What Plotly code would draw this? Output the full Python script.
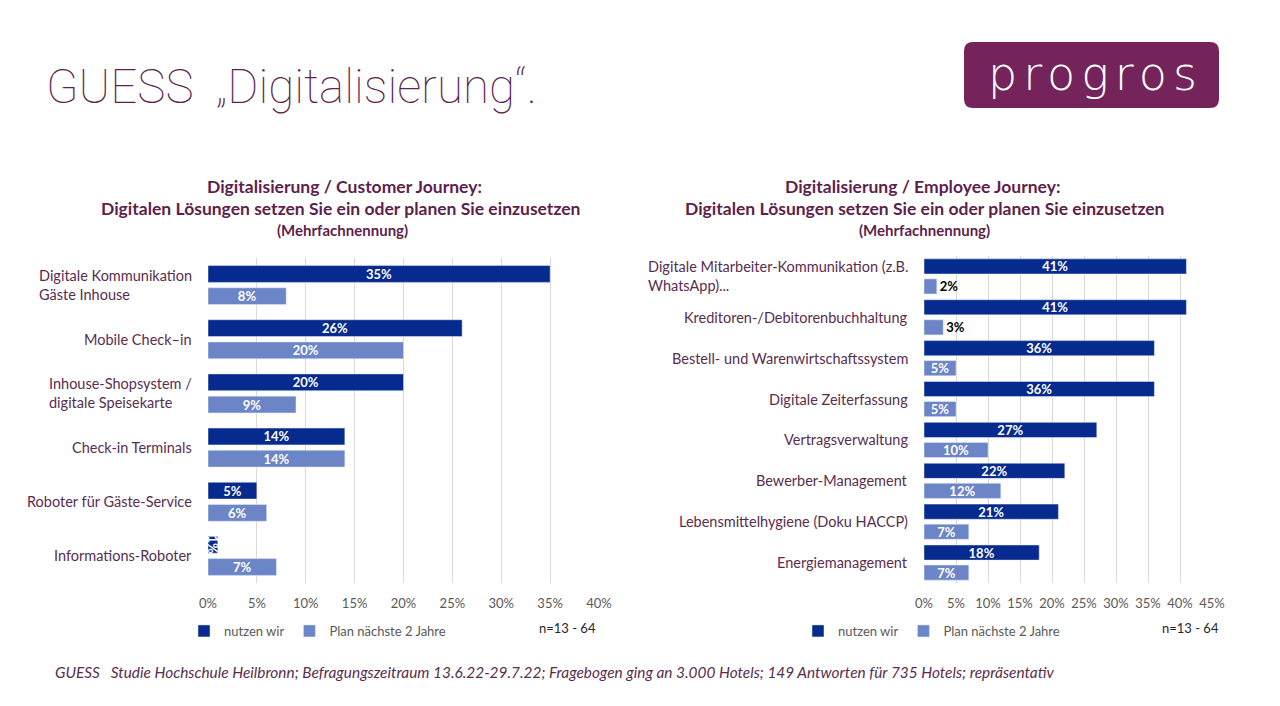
import plotly.graph_objects as go

# ---------------- data ----------------
cust_categories = ["Digitale Kommunikation<br>Gäste Inhouse", "Mobile Check–in",
                   "Inhouse-Shopsystem /<br>digitale Speisekarte", "Check-in Terminals",
                   "Roboter für Gäste-Service", "Informations-Roboter"]
cust_nutzen = [35, 26, 20, 14, 5, 1]
cust_plan = [8, 20, 9, 14, 6, 7]

emp_categories = ["Digitale Mitarbeiter-Kommunikation (z.B.<br>WhatsApp)...",
                  "Kreditoren-/Debitorenbuchhaltung", "Bestell- und Warenwirtschaftssystem",
                  "Digitale Zeiterfassung", "Vertragsverwaltung", "Bewerber-Management",
                  "Lebensmittelhygiene (Doku HACCP)", "Energiemanagement"]
emp_nutzen = [41, 41, 36, 36, 27, 22, 21, 18]
emp_plan = [2, 3, 5, 5, 10, 12, 7, 7]

cust_ticks = [0, 5, 10, 15, 20, 25, 30, 35, 40]
cust_ticktext = ["0%", "5%", "10%", "15%", "20%", "25%", "30%", "35%", "40%"]
emp_ticks = [0, 5, 10, 15, 20, 25, 30, 35, 40, 45]
emp_ticktext = ["0%", "5%", "10%", "15%", "20%", "25%", "30%", "35%", "40%", "45%"]

series_names = ["nutzen wir", "Plan nächste 2 Jahre"]

# ---------------- style ----------------
W, H = 1280, 706
DARK = "#062A8D"
LIGHT = "#6C85C7"
PURPLE = "#5E1F4C"
LABEL = "#5A2D4F"
GRAY = "#595959"
FONT = "Lato, 'Open Sans', sans-serif"


def px(x):
    return x / W


def py(y):
    return 1 - y / H


def labels(vals):
    return [f"{v}%" for v in vals]


bar_text_font = dict(color="white", size=13, family=FONT, weight="bold")

fig = go.Figure()

# customer journey
fig.add_trace(go.Bar(orientation="h", y=list(range(len(cust_categories))), x=cust_nutzen,
                     name=series_names[0], marker_color=DARK, width=0.31, offset=-0.36,
                     text=labels(cust_nutzen), textposition="inside", insidetextanchor="middle",
                     constraintext="none", textfont=bar_text_font,
                     xaxis="x", yaxis="y", legend="legend", hoverinfo="skip"))
fig.add_trace(go.Bar(orientation="h", y=list(range(len(cust_categories))), x=cust_plan,
                     name=series_names[1], marker_color=LIGHT, width=0.31, offset=0.05,
                     text=labels(cust_plan), textposition="inside", insidetextanchor="middle",
                     constraintext="none", textfont=bar_text_font,
                     xaxis="x", yaxis="y", legend="legend", hoverinfo="skip"))

# employee journey
fig.add_trace(go.Bar(orientation="h", y=list(range(len(emp_categories))), x=emp_nutzen,
                     name=series_names[0], marker_color=DARK, width=0.37, offset=-0.43,
                     text=labels(emp_nutzen), textposition="inside", insidetextanchor="middle",
                     constraintext="none", textfont=bar_text_font,
                     xaxis="x2", yaxis="y2", legend="legend2", hoverinfo="skip"))
emp_pos = ["outside" if v < 4 else "inside" for v in emp_plan]
fig.add_trace(go.Bar(orientation="h", y=list(range(len(emp_categories))), x=emp_plan,
                     name=series_names[1], marker_color=LIGHT, width=0.37, offset=0.06,
                     text=labels(emp_plan), textposition=emp_pos, insidetextanchor="middle",
                     constraintext="none",
                     insidetextfont=bar_text_font,
                     outsidetextfont=dict(color="black", size=13, family=FONT, weight="bold"),
                     cliponaxis=False,
                     xaxis="x2", yaxis="y2", legend="legend2", hoverinfo="skip"))

axis_common = dict(showgrid=True, gridcolor="#D9D9D9", gridwidth=1, zeroline=False,
                   showline=False, ticks="", tickmode="array", automargin=False,
                   tickfont=dict(size=13, color=GRAY, family=FONT), ticklabelstandoff=11,
                   fixedrange=True)

legend_common = dict(orientation="h", yanchor="middle", bgcolor="rgba(0,0,0,0)",
                     font=dict(size=13, color=GRAY, family=FONT), itemwidth=30,
                     traceorder="normal")

fig.update_layout(
    width=W, height=H, autosize=False,
    margin=dict(l=0, r=0, t=0, b=0, autoexpand=False),
    paper_bgcolor="white", plot_bgcolor="white",
    font=dict(family=FONT),
    barmode="overlay",
    showlegend=True,
    xaxis=dict(domain=[px(208), px(599)], range=[0, 40], tickvals=cust_ticks,
               ticktext=cust_ticktext, anchor="y", **axis_common),
    yaxis=dict(domain=[py(583), py(258)], range=[len(cust_categories) - 0.5, -0.5],
               showticklabels=False, showgrid=False, zeroline=False, anchor="x",
               fixedrange=True, automargin=False),
    xaxis2=dict(domain=[px(924), px(1212)], range=[0, 45], tickvals=emp_ticks,
                ticktext=emp_ticktext, anchor="y2", **axis_common),
    yaxis2=dict(domain=[py(583), py(256)], range=[len(emp_categories) - 0.5, -0.5],
                showticklabels=False, showgrid=False, zeroline=False, anchor="x2",
                fixedrange=True, automargin=False),
    legend=dict(x=px(184), y=py(631), xanchor="left", **legend_common),
    legend2=dict(x=px(798), y=py(631), xanchor="left", **legend_common),
)

ann = []
# category labels (left-aligned blocks, right edge near the axis)
for i, c in enumerate(cust_categories):
    ann.append(dict(text=c, xref="paper", yref="y", x=px(194), y=i, xanchor="right",
                    yanchor="middle", align="left", showarrow=False,
                    font=dict(size=14.5, color=LABEL, family=FONT)))
for i, c in enumerate(emp_categories):
    ann.append(dict(text=c, xref="paper", yref="y2", x=px(910), y=i, xanchor="right",
                    yanchor="middle", align="left", showarrow=False,
                    font=dict(size=14.5, color=LABEL, family=FONT)))

# chart titles
titles = [
    ("Digitalisierung / Customer Journey:", 344, 186, 17.5),
    ("Digitalen Lösungen setzen Sie ein oder planen Sie einzusetzen", 340, 209, 17.5),
    ("(Mehrfachnennung)", 342, 230, 15),
    ("Digitalisierung / Employee Journey:", 922, 186, 17.5),
    ("Digitalen Lösungen setzen Sie ein oder planen Sie einzusetzen", 924, 209, 17.5),
    ("(Mehrfachnennung)", 924, 230, 15),
]
for t, x, y, s in titles:
    ann.append(dict(text=t, xref="paper", yref="paper", x=px(x), y=py(y), xanchor="center",
                    yanchor="middle", showarrow=False,
                    font=dict(size=s, color=PURPLE, family=FONT, weight="bold")))

# n labels
for x in (567, 1190):
    ann.append(dict(text="n=13 - 64", xref="paper", yref="paper", x=px(x), y=py(628),
                    xanchor="center", yanchor="middle", showarrow=False,
                    font=dict(size=13, color="#262626", family=FONT)))

# main title
ann.append(dict(text="GUESS  „Digitalisierung“.", xref="paper", yref="paper", x=px(44), y=py(87),
                xanchor="left", yanchor="middle", showarrow=False,
                font=dict(size=47.5, color="#5B2350", family="Roboto, sans-serif", weight=100)))

# footer
ann.append(dict(text="GUESS   Studie Hochschule Heilbronn; Befragungszeitraum 13.6.22-29.7.22; "
                     "Fragebogen ging an 3.000 Hotels; 149 Antworten für 735 Hotels; repräsentativ",
                xref="paper", yref="paper", x=px(53), y=py(672), xanchor="left", yanchor="middle",
                showarrow=False,
                font=dict(size=15.4, color=LABEL, family=FONT, style="italic")))

# logo text
ann.append(dict(text='<span style="letter-spacing:6px">progros</span>', xref="paper", yref="paper",
                x=px(1095), y=py(74), xanchor="center", yanchor="middle", showarrow=False,
                font=dict(size=46, color="white", family="'DejaVu Sans', sans-serif", weight=200)))

fig.update_layout(annotations=ann)


# logo background: rounded rectangle
def rounded_rect(x0, y0, x1, y1, r):
    X0, X1 = px(x0), px(x1)
    Y0, Y1 = py(y0), py(y1)
    rx, ry = r / W, r / H
    return (f"M {X0+rx},{Y0} L {X1-rx},{Y0} Q {X1},{Y0} {X1},{Y0-ry} "
            f"L {X1},{Y1+ry} Q {X1},{Y1} {X1-rx},{Y1} L {X0+rx},{Y1} "
            f"Q {X0},{Y1} {X0},{Y1+ry} L {X0},{Y0-ry} Q {X0},{Y0} {X0+rx},{Y0} Z")


fig.add_shape(type="path", xref="paper", yref="paper", path=rounded_rect(964, 42, 1219, 108, 9),
              fillcolor="#74245A", line=dict(width=0), layer="below")

fig.write_html("out.html", include_plotlyjs=True, full_html=True,
               config={"displayModeBar": False, "responsive": False},
               post_script="document.body.style.margin='0';")
